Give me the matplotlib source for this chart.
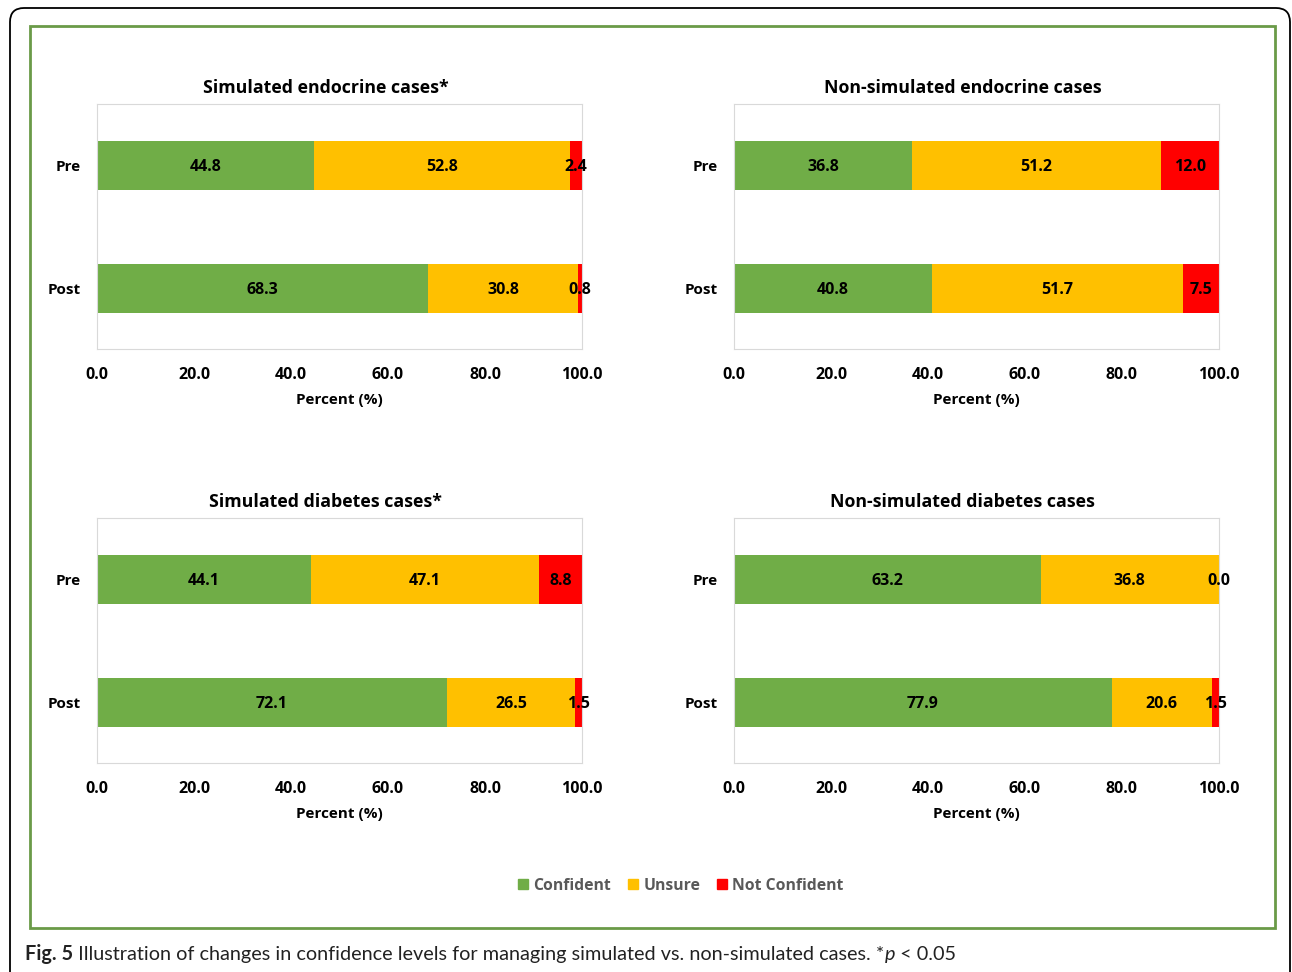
import matplotlib
matplotlib.use('Agg')
import matplotlib.pyplot as plt
from matplotlib.patches import Patch, Rectangle, FancyBboxPatch

plt.rcParams['font.family'] = ['Open Sans', 'DejaVu Sans']

# data
groups = ['Pre', 'Post']
levels = ['Confident', 'Unsure', 'Not Confident']
colors = ['#70AD47', '#FFC000', '#FF0000']

titles = ['Simulated endocrine cases*', 'Non-simulated endocrine cases',
          'Simulated diabetes cases*', 'Non-simulated diabetes cases']
confident = [[44.8, 68.3], [36.8, 40.8], [44.1, 72.1], [63.2, 77.9]]
unsure = [[52.8, 30.8], [51.2, 51.7], [47.1, 26.5], [36.8, 20.6]]
not_conf = [[2.4, 0.8], [12.0, 7.5], [8.8, 1.5], [0.0, 1.5]]

W, H = 1292, 972
fig = plt.figure(figsize=(W / 100, H / 100), dpi=100)

# panel positions in pixels (left, top)
panels = [(97, 104), (734, 104), (97, 518), (734, 518)]
pw, ph = 485, 245

for i, (px, py) in enumerate(panels):
    ax = fig.add_axes([px / W, 1 - (py + ph) / H, pw / W, ph / H])
    series = [confident[i], unsure[i], not_conf[i]]
    ypos = [1, 0]
    left = [0, 0]
    for vals, col in zip(series, colors):
        ax.barh(ypos, vals, left=left, height=0.4, color=col, zorder=2)
        for y, v, l in zip(ypos, vals, left):
            ax.text(l + v / 2, y - 0.01, f'{v:.1f}', ha='center', va='center',
                    fontsize=11.5, fontweight='bold', color='black', zorder=3)
        left = [a + b for a, b in zip(left, vals)]
    ax.set_xlim(0, 100)
    ax.set_ylim(-0.49, 1.5)
    ax.set_xticks(range(0, 101, 20))
    ax.set_xticklabels([f'{t:.1f}' for t in range(0, 101, 20)],
                       fontsize=11.5, fontweight='bold')
    ax.set_yticks(ypos)
    ax.set_yticklabels(groups, fontsize=11, fontweight='bold')
    for lab in ax.get_yticklabels():
        lab.set_verticalalignment('center_baseline')
    ax.tick_params(length=0, pad=13)
    ax.tick_params(axis='y', pad=12)
    for s in ax.spines.values():
        s.set_color('#D9D9D9')
        s.set_linewidth(0.8)
    ax.set_xlabel('Percent (%)', fontsize=11, fontweight='bold', labelpad=7)
    ax.text(0.472, 1.066, titles[i], transform=ax.transAxes, ha='center',
            va='center', fontsize=12.8, fontweight='bold')

handles = [Patch(color=c, label=l) for c, l in zip(colors, levels)]
fig.legend(handles=handles, loc='center', bbox_to_anchor=(681 / W, 1 - 886 / H),
           ncol=3, frameon=False, handlelength=0.6,
           handleheight=0.6, handletextpad=0.35, columnspacing=1.1,
           labelcolor='#595959', prop={'weight': 'bold', 'size': 11.3})

# frames
outer = FancyBboxPatch((0.10, -0.3), 12.80, 9.94,
                       boxstyle='round,pad=0,rounding_size=0.14',
                       transform=fig.dpi_scale_trans, fill=False,
                       edgecolor='black', linewidth=1.3)
fig.add_artist(outer)
inner = Rectangle((0.30, (H - 928) / 100), 12.45, (928 - 26) / 100,
                  transform=fig.dpi_scale_trans, fill=False,
                  edgecolor='#6A9A48', linewidth=2)
fig.add_artist(inner)

# caption
cap_font = ['Lato', 'DejaVu Sans']
r = fig.canvas.get_renderer()
x = 25 / W
yc = 1 - 954 / H
parts = [('Fig. 5', 'bold', 'normal'),
         (' Illustration of changes in confidence levels for managing simulated vs. non-simulated cases. *', 'normal', 'normal'),
         ('p', 'normal', 'italic'),
         (' < 0.05', 'normal', 'normal')]
for txt, wt, st in parts:
    t = fig.text(x, yc, txt, ha='left', va='center', fontsize=14.3,
                 fontweight=wt, fontstyle=st, family=cap_font, color='#222222')
    bb = t.get_window_extent(renderer=r)
    x += bb.width / W

fig.savefig('out.png', dpi=100)
